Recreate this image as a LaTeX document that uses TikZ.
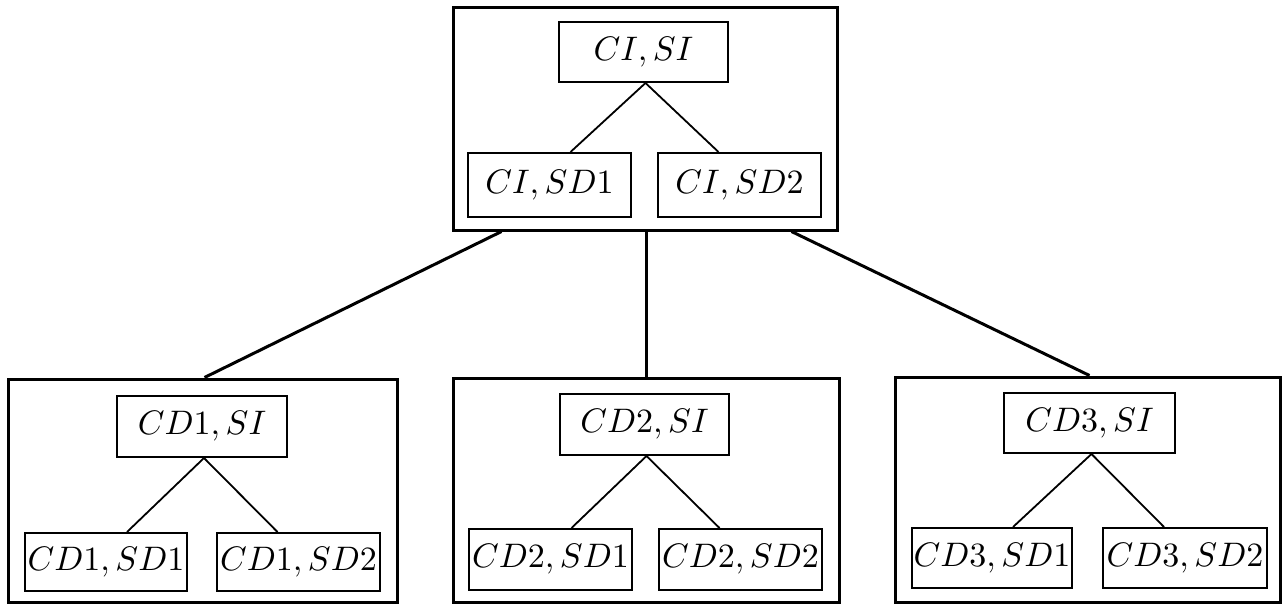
\documentclass[tikz,border=0pt]{standalone}
\usepackage{graphicx}
\usetikzlibrary{calc}
% state labels, enlarged from their 10pt math form
\newcommand{\stlabel}[1]{\scalebox{3.4}{$#1$}}
\begin{document}
\begin{tikzpicture}[x=1pt,y=-1pt,
  group/.style={draw, line width=3pt, rectangle, inner sep=0pt},
  state/.style={draw, line width=2pt, rectangle, inner sep=0pt},
  link/.style={line width=1.8pt},
  bigline/.style={line width=3pt}]
\useasboundingbox (0,0) rectangle (1288,605);

% four groups of states
\node[group, minimum width=384pt, minimum height=223pt] (G0) at (645,118.5) {};
\node[group, minimum width=389pt, minimum height=223pt] (G1) at (202.5,490.5) {};
\node[group, minimum width=386pt, minimum height=224pt] (G2) at (646,490) {};
\node[group, minimum width=385pt, minimum height=225pt] (G3) at (1087.5,489.5) {};

% top group
\node[state, minimum width=169pt, minimum height=60pt] (ci) at (643.5,52) {\stlabel{CI,SI}};
\node[state, minimum width=163pt, minimum height=64pt] (ci1) at (549.5,185) {\stlabel{CI,SD1}};
\node[state, minimum width=163pt, minimum height=64pt] (ci2) at (739.5,185) {\stlabel{CI,SD2}};

% group CD1
\node[state, minimum width=170pt, minimum height=61pt] (c1) at (202,426.5) {\stlabel{CD1,SI}};
\node[state, minimum width=162pt, minimum height=58pt] (c11) at (106,562) {\stlabel{CD1,SD1}};
\node[state, minimum width=163pt, minimum height=58pt] (c12) at (298.5,562) {\stlabel{CD1,SD2}};

% group CD2
\node[state, minimum width=169pt, minimum height=61pt] (c2) at (644.5,424.5) {\stlabel{CD2,SI}};
\node[state, minimum width=163pt, minimum height=61pt] (c21) at (550.5,559.5) {\stlabel{CD2,SD1}};
\node[state, minimum width=163pt, minimum height=61pt] (c22) at (740.5,559.5) {\stlabel{CD2,SD2}};

% group CD3
\node[state, minimum width=171pt, minimum height=60pt] (c3) at (1089.5,423) {\stlabel{CD3,SI}};
\node[state, minimum width=160pt, minimum height=60pt] (c31) at (992,558) {\stlabel{CD3,SD1}};
\node[state, minimum width=164pt, minimum height=60pt] (c32) at (1185,558) {\stlabel{CD3,SD2}};

% edges inside the groups
\foreach \p/\a/\b in {ci/ci1/ci2, c1/c11/c12, c2/c21/c22, c3/c31/c32}{
  \draw[link] ([xshift=21pt]\a.north) -- ([xshift=2pt]\p.south) -- ([xshift=-21pt]\b.north);
}

% edges between the groups
\draw[bigline] ([xshift=50pt]G0.south west) -- ([xshift=2pt]G1.north);
\draw[bigline] ([xshift=1pt]G0.south) -- (G2.north);
\draw[bigline] ([xshift=-47pt]G0.south east) -- ([xshift=2pt]G3.north);
\end{tikzpicture}
\end{document}
